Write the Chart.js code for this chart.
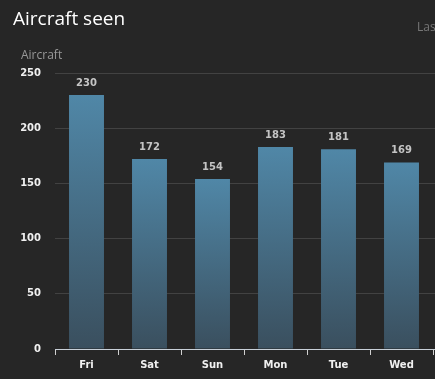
<!DOCTYPE html>
<html><head><meta charset="utf-8">
<script src="https://cdn.jsdelivr.net/npm/chart.js@4/dist/chart.umd.min.js"></script>
<style>
html,body{margin:0;padding:0;background:#262626;overflow:hidden;width:435px;height:379px;}
#wrap{position:absolute;left:0;top:0;width:520px;height:379px;}
.t{position:absolute;white-space:nowrap;font-family:"Open Sans",sans-serif;}
#title{left:13px;top:5px;font-size:19px;color:#fff;}
#sub{left:417px;top:18px;font-size:12px;color:#777;}
#ytitle{left:21px;top:46px;font-size:12px;color:#999;}
</style></head>
<body>
<div id="wrap"><canvas id="c" width="520" height="379"></canvas></div>
<div class="t" id="title">Aircraft seen</div>
<div class="t" id="sub">Last 7 days</div>
<div class="t" id="ytitle">Aircraft</div>
<script>
const categories = ["Fri","Sat","Sun","Mon","Tue","Wed","Thu"];
const aircraftSeen = [230,172,154,183,181,169,null];
const yTicks = [0,50,100,150,200,250];

const labelPlugin = {
  id:'barLabels',
  afterDatasetsDraw(chart){
    const ctx = chart.ctx;
    const meta = chart.getDatasetMeta(0);
    ctx.save();
    ctx.font = 'bold 10px "DejaVu Sans", sans-serif';
    ctx.fillStyle = '#c4c4c4';
    ctx.textAlign = 'center';
    ctx.textBaseline = 'middle';
    meta.data.forEach((el,i)=>{
      const v = aircraftSeen[i];
      if(v==null) return;
      ctx.fillText(String(v), el.x, el.y - 12);
    });
    ctx.restore();
  }
};

new Chart(document.getElementById('c'),{
  type:'bar',
  data:{labels:categories,datasets:[{
    data:aircraftSeen,
    categoryPercentage:1,
    barPercentage:0.555,
    backgroundColor(ctx){
      const chart = ctx.chart;
      const ca = chart.chartArea;
      if(!ca) return '#4f7f9c';
      const v = ctx.raw;
      if(v==null) return '#4f7f9c';
      const ys = chart.scales.y;
      const top = ys.getPixelForValue(v);
      const g = chart.ctx.createLinearGradient(0, top, 0, ca.bottom);
      g.addColorStop(0,'#5087a7');
      g.addColorStop(1,'#3a4f5e');
      return g;
    },
    borderWidth:0
  }]},
  options:{
    responsive:false,
    animation:false,
    devicePixelRatio:1,
    layout:{padding:{top:73,left:0,right:24,bottom:0}},
    plugins:{legend:{display:false},tooltip:{enabled:false},title:{display:false}},
    scales:{
      y:{
        min:0,max:250,
        afterBuildTicks(s){ s.ticks = yTicks.map(v=>({value:v})); },
        afterFit(s){ s.width = 55; },
        grid:{color:'#424242',lineWidth:1,drawTicks:false},
        border:{display:false},
        ticks:{padding:14,color:'#f0f0f0',font:{family:'"DejaVu Sans"',size:10,weight:'bold'}}
      },
      x:{
        afterFit(s){ s.height = 30; },
        grid:{offset:true,drawOnChartArea:false,drawTicks:true,tickLength:6,color:'#d0d0d0',lineWidth:1},
        border:{display:true,color:'#c8d0d8',width:1},
        ticks:{padding:4,color:'#f0f0f0',font:{family:'"DejaVu Sans"',size:10,weight:'bold'},maxRotation:0,autoSkip:false}
      }
    }
  },
  plugins:[labelPlugin]
});
</script>
</body></html>
